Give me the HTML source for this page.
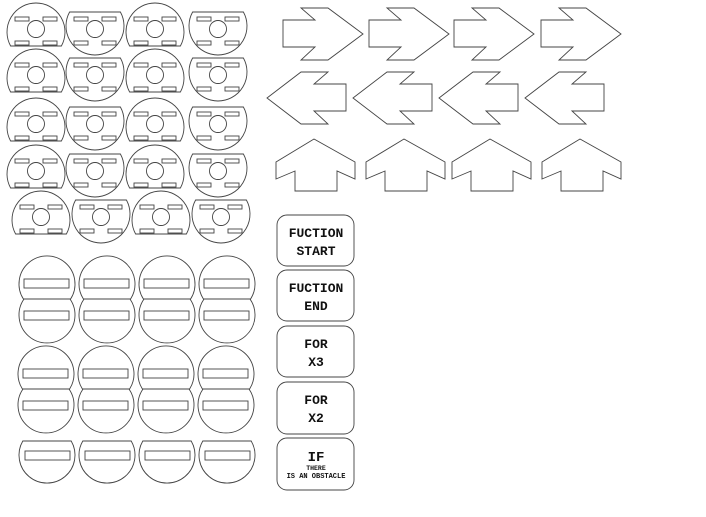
<!DOCTYPE html>
<html><head><meta charset="utf-8"><style>
html,body{margin:0;padding:0;background:#fff;width:706px;height:517px;overflow:hidden}
svg{display:block}
text{font-family:"Liberation Mono",monospace;font-weight:bold;fill:#111;text-anchor:middle}
</style></head><body>
<svg width="706" height="517" viewBox="0 0 706 517" xmlns="http://www.w3.org/2000/svg">
<defs>
<g id="A">
<path d="M-25.4 14 A29 29 0 1 1 25.4 14 Z"/>
<circle cx="0" cy="-3" r="8.5"/>
<rect x="-21" y="-15" width="14" height="4"/><rect x="7" y="-15" width="14" height="4"/>
<rect x="-21" y="9" width="14" height="4"/><rect x="7" y="9" width="14" height="4"/>
</g>
<g id="B">
<path d="M-25.4 -14 A29 29 0 1 0 25.4 -14 Z"/>
<circle cx="0" cy="3" r="8.5"/>
<rect x="-21" y="-9" width="14" height="4"/><rect x="7" y="-9" width="14" height="4"/>
<rect x="-21" y="15" width="14" height="4"/><rect x="7" y="15" width="14" height="4"/>
</g>
<g id="RA"><polygon points="0,12 32,12 18,0 45,0 80,26 45,52 18,52 32,39 0,39"/></g>
<g id="LA"><polygon points="0,26 34,0 61,0 47,12 79,12 79,39 47,39 61,52 34,52"/></g>
<g id="UA"><polygon points="38,0 79,23 79,40 61,32 61,52 19,52 19,32 0,40 0,23"/></g>
<g id="P">
<path d="M-23.6 15 A28 28 0 1 1 23.6 15 Z"/><rect x="-23" y="-5" width="45" height="9"/>
<path d="M-23 15 A28 28 0 1 0 23 15 Z" transform="translate(0,0)"/>
</g>
</defs>
<g fill="none" stroke="#444" stroke-width="0.9">
<!-- top-left circles -->
<g>
<use href="#A" x="36" y="32"/><use href="#B" x="95" y="26"/><use href="#A" x="155" y="32"/><use href="#B" x="218" y="26"/>
<use href="#A" x="36" y="78"/><use href="#B" x="95" y="72"/><use href="#A" x="155" y="78"/><use href="#B" x="218" y="72"/>
<use href="#A" x="36" y="127"/><use href="#B" x="95" y="121"/><use href="#A" x="155" y="127"/><use href="#B" x="218" y="121"/>
<use href="#A" x="36" y="174"/><use href="#B" x="95" y="168"/><use href="#A" x="155" y="174"/><use href="#B" x="218" y="168"/>
<use href="#A" x="41" y="220"/><use href="#B" x="101" y="214"/><use href="#A" x="161" y="220"/><use href="#B" x="221" y="214"/>
</g>
<!-- bottom circles -->
<g id="pair">
<path d="M-23.6 299 A28 28 0 1 1 23.6 299 Z" transform="translate(47,0)"/>
<path d="M-23 299 A28 28 0 1 0 23 299 Z" transform="translate(47,0)"/>
<rect x="24" y="279" width="45" height="9"/><rect x="24" y="311" width="45" height="9"/>
</g>
<use href="#pair" x="60"/><use href="#pair" x="120"/><use href="#pair" x="180"/>
<g id="pair2" transform="translate(-1,90)">
<path d="M-23.6 299 A28 28 0 1 1 23.6 299 Z" transform="translate(47,0)"/>
<path d="M-23 299 A28 28 0 1 0 23 299 Z" transform="translate(47,0)"/>
<rect x="24" y="279" width="45" height="9"/><rect x="24" y="311" width="45" height="9"/>
</g>
<use href="#pair2" x="60"/><use href="#pair2" x="120"/><use href="#pair2" x="180"/>
<g id="single">
<path d="M-24.2 441 A28 28 0 1 0 24.2 441 Z" transform="translate(47,0)"/>
<rect x="25" y="451" width="45" height="9"/>
</g>
<use href="#single" x="60"/><use href="#single" x="120"/><use href="#single" x="180"/>
<!-- arrows -->
<use href="#RA" x="283" y="8"/><use href="#RA" x="369" y="8"/><use href="#RA" x="454" y="8"/><use href="#RA" x="541" y="8"/>
<use href="#LA" x="267" y="72"/><use href="#LA" x="353" y="72"/><use href="#LA" x="439" y="72"/><use href="#LA" x="525" y="72"/>
<use href="#UA" x="276" y="139"/><use href="#UA" x="366" y="139"/><use href="#UA" x="452" y="139"/><use href="#UA" x="542" y="139"/>
<!-- buttons -->
<rect x="277" y="215" width="77" height="51" rx="10"/>
<rect x="277" y="270" width="77" height="51" rx="10"/>
<rect x="277" y="326" width="77" height="51" rx="10"/>
<rect x="277" y="382" width="77" height="52" rx="10"/>
<rect x="277" y="438" width="77" height="52" rx="10"/>
</g>
<g font-size="13">
<text x="316" y="237">FUCTION</text><text x="316" y="255">START</text>
<text x="316" y="292">FUCTION</text><text x="316" y="310">END</text>
<text x="316" y="348">FOR</text><text x="316" y="366">X3</text>
<text x="316" y="404">FOR</text><text x="316" y="422">X2</text>
<text x="316" y="461" font-size="14">IF</text>
</g>
<text x="316" y="470" font-size="6.5">THERE</text>
<text x="316" y="478" font-size="7">IS AN OBSTACLE</text>
</svg>
</body></html>
